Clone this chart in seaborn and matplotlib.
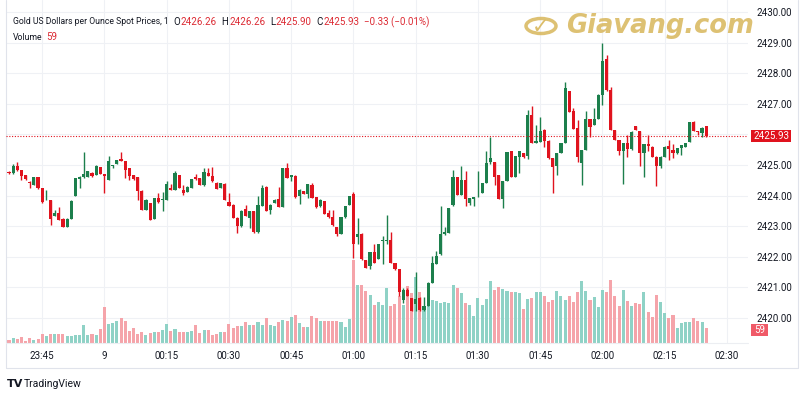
import matplotlib
matplotlib.use("Agg")
import matplotlib.pyplot as plt
import matplotlib.transforms as mtransforms
from matplotlib import font_manager
from matplotlib.patches import Rectangle, Circle
from matplotlib.lines import Line2D
import numpy as np
import pandas as pd
import seaborn as sns

# ---------------- data ----------------
# one candle per minute starting at 23:37
opens = [2424.78, 2424.73, 2424.98, 2424.84, 2424.67, 2424.44, 2424.35, 2424.59, 2424.24, 2423.87,
         2423.84, 2423.34, 2423.42, 2423.24, 2422.97, 2423.24, 2424.00, 2424.53, 2424.60, 2424.62,
         2424.75, 2424.67, 2424.92, 2424.70, 2424.51, 2424.97, 2425.03, 2425.20, 2425.13, 2424.89,
         2424.67, 2424.60, 2424.16, 2423.53, 2423.75, 2423.24, 2423.91, 2423.84, 2423.86, 2424.26,
         2424.18, 2424.67, 2424.18, 2424.13, 2424.24, 2424.62, 2424.57, 2424.33, 2424.73, 2424.65,
         2424.42, 2424.26, 2424.39, 2423.80, 2423.70, 2423.28, 2422.99, 2423.55, 2423.26, 2423.48,
         2422.80, 2423.66, 2424.29, 2423.53, 2423.75, 2423.89, 2423.64, 2424.89, 2424.59, 2424.65,
         2423.97, 2424.15, 2424.05, 2424.35, 2423.94, 2423.65, 2423.81, 2423.43, 2423.29, 2422.96,
         2422.75, 2423.29, 2423.70, 2424.05, 2422.64, 2422.75, 2421.88, 2421.70, 2422.16, 2421.92,
         2422.50, 2422.52, 2422.56, 2421.80, 2421.59, 2420.58, 2420.90, 2420.65, 2420.47, 2420.66,
         2420.25, 2420.40, 2421.15, 2421.77, 2422.08, 2422.73, 2422.78, 2423.68, 2424.61, 2424.03,
         2424.52, 2423.76, 2423.90, 2424.04, 2424.09, 2424.41, 2425.10, 2425.10, 2424.66, 2423.90,
         2424.47, 2425.45, 2424.60, 2425.25, 2425.39, 2425.28, 2426.64, 2425.72, 2425.75, 2426.15,
         2425.79, 2425.21, 2424.96, 2425.39, 2425.72, 2427.41, 2426.76, 2426.22, 2425.07, 2425.49,
         2426.50, 2426.32, 2426.50, 2427.30, 2428.45, 2427.44, 2426.14, 2425.81, 2425.46, 2425.71,
         2425.51, 2426.27, 2426.11, 2425.38, 2425.67, 2425.60, 2425.27, 2424.95, 2425.27, 2425.63,
         2425.49, 2425.38, 2425.54, 2425.60, 2425.76, 2426.39, 2426.09, 2426.03, 2426.26]
highs = [2424.80, 2425.02, 2425.09, 2424.85, 2424.68, 2424.46, 2424.62, 2424.60, 2424.25, 2424.18,
         2423.86, 2423.53, 2423.64, 2423.25, 2423.25, 2423.84, 2424.58, 2424.63, 2425.41, 2424.81,
         2424.76, 2424.99, 2424.93, 2424.71, 2425.30, 2425.00, 2425.17, 2425.41, 2425.14, 2424.90,
         2424.68, 2424.61, 2424.17, 2423.87, 2423.76, 2423.92, 2424.08, 2424.13, 2424.48, 2424.37,
         2424.80, 2424.68, 2424.35, 2424.30, 2424.54, 2424.70, 2424.58, 2424.91, 2424.90, 2424.92,
         2424.43, 2424.41, 2424.40, 2424.08, 2423.71, 2423.29, 2423.52, 2423.70, 2423.49, 2423.49,
         2423.97, 2424.35, 2424.30, 2423.71, 2423.87, 2424.29, 2424.90, 2425.05, 2424.68, 2424.66,
         2424.20, 2424.16, 2424.38, 2424.40, 2423.95, 2423.87, 2423.82, 2423.54, 2423.54, 2422.97,
         2423.30, 2423.66, 2423.98, 2424.11, 2423.27, 2422.76, 2421.89, 2422.17, 2422.40, 2422.43,
         2422.67, 2423.37, 2422.81, 2421.81, 2421.60, 2420.98, 2420.98, 2420.66, 2421.51, 2420.67,
         2420.67, 2421.16, 2422.02, 2422.18, 2423.65, 2422.97, 2423.59, 2424.85, 2424.62, 2424.96,
         2424.79, 2423.93, 2423.95, 2424.79, 2424.42, 2425.45, 2425.90, 2425.11, 2424.67, 2424.48,
         2425.43, 2425.46, 2425.29, 2425.46, 2425.40, 2426.80, 2426.91, 2426.29, 2426.55, 2426.16,
         2425.80, 2425.22, 2425.40, 2425.73, 2427.71, 2427.42, 2426.85, 2426.47, 2425.50, 2426.76,
         2426.51, 2426.87, 2427.31, 2428.99, 2428.58, 2427.55, 2426.15, 2425.82, 2425.72, 2425.98,
         2426.10, 2426.28, 2426.12, 2425.68, 2425.98, 2425.61, 2425.28, 2425.28, 2425.61, 2425.81,
         2425.70, 2425.55, 2425.66, 2425.72, 2426.40, 2426.43, 2426.12, 2426.23, 2426.26]
lows = [2424.70, 2424.70, 2424.80, 2424.51, 2424.50, 2424.24, 2424.33, 2424.22, 2423.75, 2423.85,
        2423.04, 2423.32, 2423.20, 2422.96, 2422.96, 2423.22, 2423.98, 2424.24, 2424.57, 2424.60,
        2424.62, 2424.66, 2424.70, 2424.08, 2424.50, 2424.90, 2425.02, 2425.12, 2424.57, 2424.51,
        2424.52, 2423.86, 2423.52, 2423.52, 2423.20, 2423.23, 2423.75, 2423.48, 2423.85, 2424.17,
        2424.17, 2424.23, 2424.02, 2424.12, 2424.23, 2424.52, 2424.34, 2424.32, 2424.64, 2424.45,
        2424.20, 2424.25, 2423.85, 2423.65, 2423.27, 2422.77, 2422.98, 2423.33, 2422.93, 2422.79,
        2422.79, 2423.65, 2423.50, 2423.40, 2423.74, 2423.61, 2423.63, 2424.56, 2424.46, 2423.93,
        2423.72, 2424.04, 2423.92, 2423.91, 2423.60, 2423.64, 2423.39, 2423.28, 2423.02, 2422.68,
        2422.74, 2423.28, 2423.69, 2421.97, 2422.40, 2421.90, 2421.63, 2421.59, 2421.79, 2421.91,
        2421.75, 2422.40, 2421.79, 2421.58, 2420.70, 2420.50, 2420.71, 2420.22, 2420.23, 2420.24,
        2420.24, 2420.39, 2421.14, 2421.76, 2422.07, 2422.72, 2422.77, 2423.67, 2424.02, 2424.02,
        2423.65, 2423.70, 2423.65, 2423.95, 2424.08, 2424.40, 2425.03, 2424.36, 2423.89, 2423.60,
        2424.46, 2424.59, 2424.59, 2424.74, 2425.24, 2425.18, 2425.71, 2425.71, 2425.74, 2425.60,
        2425.20, 2424.09, 2424.66, 2425.38, 2425.71, 2426.73, 2426.18, 2425.09, 2424.35, 2425.48,
        2425.92, 2426.31, 2426.49, 2426.95, 2427.43, 2426.13, 2425.80, 2425.31, 2424.37, 2425.27,
        2425.50, 2426.13, 2424.98, 2424.62, 2425.45, 2425.26, 2424.30, 2424.89, 2425.26, 2425.16,
        2425.21, 2425.37, 2425.33, 2425.59, 2425.75, 2426.10, 2425.98, 2425.91, 2425.90]
closes = [2424.72, 2424.97, 2424.84, 2424.65, 2424.53, 2424.42, 2424.60, 2424.24, 2423.80, 2423.89,
          2423.23, 2423.42, 2423.21, 2422.97, 2423.24, 2423.83, 2424.57, 2424.62, 2424.70, 2424.80,
          2424.64, 2424.98, 2424.71, 2424.64, 2425.13, 2424.99, 2425.16, 2425.13, 2424.84, 2424.65,
          2424.53, 2424.16, 2423.53, 2423.86, 2423.21, 2423.91, 2423.78, 2423.88, 2424.38, 2424.18,
          2424.73, 2424.24, 2424.08, 2424.29, 2424.53, 2424.53, 2424.35, 2424.78, 2424.65, 2424.46,
          2424.21, 2424.40, 2423.86, 2423.66, 2423.28, 2423.00, 2423.51, 2423.34, 2423.48, 2422.80,
          2423.70, 2424.26, 2423.51, 2423.70, 2423.86, 2423.62, 2424.89, 2424.57, 2424.67, 2423.94,
          2424.19, 2424.05, 2424.37, 2423.92, 2423.61, 2423.86, 2423.40, 2423.29, 2423.03, 2422.75,
          2423.29, 2423.65, 2423.97, 2422.42, 2422.75, 2421.91, 2421.64, 2422.16, 2421.80, 2422.42,
          2422.55, 2422.56, 2421.80, 2421.59, 2420.86, 2420.90, 2420.72, 2420.23, 2420.61, 2420.25,
          2420.40, 2421.15, 2421.80, 2422.02, 2422.73, 2422.80, 2423.58, 2424.61, 2424.03, 2424.52,
          2423.90, 2423.92, 2423.94, 2424.05, 2424.41, 2425.07, 2425.21, 2424.60, 2423.90, 2424.47,
          2425.42, 2424.60, 2425.28, 2425.45, 2425.25, 2426.64, 2425.72, 2425.79, 2426.10, 2425.77,
          2425.21, 2424.92, 2425.39, 2425.72, 2427.51, 2426.74, 2426.19, 2425.27, 2425.49, 2426.50,
          2426.25, 2426.50, 2427.30, 2428.41, 2427.44, 2426.14, 2425.81, 2425.44, 2425.71, 2425.52,
          2426.09, 2426.14, 2425.38, 2425.67, 2425.63, 2425.27, 2424.95, 2425.27, 2425.60, 2425.51,
          2425.38, 2425.54, 2425.65, 2425.71, 2426.39, 2426.11, 2426.07, 2426.22, 2425.93]
volumes = [13, 20, 17, 24, 7, 20, 13, 16, 35, 29, 35, 35, 35, 35, 29, 29, 30, 33, 69, 33, 35, 33, 55,
           140, 76, 79, 88, 98, 88, 48, 59, 35, 43, 33, 39, 43, 43, 52, 75, 48, 56, 43, 43, 43, 46,
           69, 39, 52, 52, 30, 35, 43, 43, 75, 59, 68, 66, 81, 69, 72, 83, 72, 98, 72, 66, 81, 92,
           85, 102, 111, 79, 63, 62, 105, 98, 88, 85, 85, 88, 85, 83, 62, 94,
           325, 229, 229, 203, 190, 151, 160, 151, 216, 147, 155, 186, 150, 223, 197, 260, 199, 131,
           170, 170, 164, 157, 160, 157,
           229, 216, 197, 157, 151, 107, 177, 151, 174, 245, 207, 220, 214, 203, 199, 199, 197, 134,
           173, 177, 199, 199, 186, 161, 170, 203, 186, 170, 186, 161, 199, 245, 206, 170, 179, 140,
           207, 200, 249, 186, 147, 210, 166, 147, 157, 155, 200, 122, 101, 190, 160, 118, 98, 109,
           59, 79, 83, 83, 98, 88, 83, 59]
time_tick_labels = ["23:45", "9", "00:15", "00:30", "00:45", "01:00", "01:15",
                    "01:30", "01:45", "02:00", "02:15", "02:30"]
time_tick_minutes = [8, 23, 38, 53, 68, 83, 98, 113, 128, 143, 158, 173]  # minutes after 23:37
price_ticks = [2420, 2421, 2422, 2423, 2424, 2425, 2426, 2427, 2428, 2429, 2430]
price_tick_labels = ["2420.00", "2421.00", "2422.00", "2423.00", "2424.00", "2425.00",
                     "", "2427.00", "2428.00", "2429.00", "2430.00"]
last_price = 2425.93
last_volume = 59
title_text = "Gold US Dollars per Ounce Spot Prices, 1"
ohlc_letters = ["O", "H", "L", "C"]
ohlc_values = ["2426.26", "2426.26", "2425.90", "2425.93"]
change_text = "\u22120.33 (\u22120.01%)"

# ---------------- style ----------------
def pick(fams):
    for f in fams:
        try:
            font_manager.findfont(font_manager.FontProperties(family=f), fallback_to_default=False)
            return f
        except Exception:
            pass
    return "DejaVu Sans"

sns.set_style("white")
narrow = pick(["Liberation Sans Narrow", "Roboto", "DejaVu Sans"])
plt.rcParams["font.family"] = [narrow, "DejaVu Sans"]

UP = "#1c7f4c"
DOWN = "#e0131e"
VOL_UP = "#8fd2c6"
VOL_DOWN = "#f5a4aa"
GRID = "#eff1f5"
TXT = "#131722"
RED_TXT = "#dc2a33"

W, H = 800, 400
fig = plt.figure(figsize=(8, 4), dpi=100)
fig.patch.set_facecolor("white")

px_per_min = 4.15
x0_px = 9.0
ax_left, ax_right, ax_top, ax_bot = 6, 748, 0, 343
rect = [ax_left / W, 1 - ax_bot / H, (ax_right - ax_left) / W, (ax_bot - ax_top) / H]
xlim = ((ax_left - x0_px) / px_per_min, (ax_right - x0_px) / px_per_min)
ylim = (2419.18, 2430.39)

df = pd.DataFrame({"t": np.arange(len(closes)), "open": opens, "high": highs,
                   "low": lows, "close": closes, "volume": volumes})
df["dir"] = np.where(df["close"] >= df["open"], "up", "down")

# background grid axes
axg = fig.add_axes(rect, zorder=0)
axg.set_xlim(*xlim)
axg.set_ylim(*ylim)
axg.set_xticks(time_tick_minutes)
axg.set_yticks(price_ticks)
axg.tick_params(length=0, labelbottom=False, labelleft=False)
axg.grid(True, color=GRID, lw=0.8)
for s in axg.spines.values():
    s.set_visible(False)

# volume axes
axv = fig.add_axes(rect, zorder=1)
sns.barplot(data=df, x="t", y="volume", hue="dir", palette={"up": VOL_UP, "down": VOL_DOWN},
            native_scale=True, dodge=False, width=0.74, errorbar=None, legend=False,
            saturation=1, linewidth=0, edgecolor="none", ax=axv)
axv.set_xlim(*xlim)
axv.set_ylim(0, 1348)
axv.axis("off")

# price axes (front)
ax = fig.add_axes(rect, zorder=2)
ax.patch.set_visible(False)
ax.set_xlim(*xlim)
ax.set_ylim(*ylim)

cols = np.where(df["dir"] == "up", UP, DOWN)
ax.vlines(df["t"], df["low"], df["high"], colors=cols, lw=1.0, zorder=3)
body_h = np.maximum((df["close"] - df["open"]).abs(), 0.025)
ax.bar(df["t"], body_h, bottom=np.minimum(df["open"], df["close"]), width=0.76,
       color=cols, linewidth=0, zorder=4)

ax.set_yticks(price_ticks)
ax.set_yticklabels(price_tick_labels)
ax.yaxis.tick_right()
ax.set_xticks(time_tick_minutes)
ax.set_xticklabels(time_tick_labels)
ax.tick_params(axis="y", length=0, pad=6, labelsize=7, labelcolor=TXT)
ax.tick_params(axis="x", length=0, pad=6, labelsize=7, labelcolor=TXT)
ax.grid(False)
for s in ax.spines.values():
    s.set_visible(False)

# last price dotted line
ax.axhline(last_price, color=DOWN, lw=0.8, ls=(0, (1, 1.5)), zorder=5)

# frame lines
fig.add_artist(Line2D([ax_left / W, ax_left / W], [1, 1 - 368 / H], color="#e0e3eb", lw=0.8))
fig.add_artist(Line2D([ax_left / W, 798 / W], [1 - 368 / H, 1 - 368 / H], color="#e0e3eb", lw=0.8))
fig.add_artist(Line2D([ax_left / W, ax_right / W], [1 - ax_bot / H, 1 - ax_bot / H], color="#eceef2", lw=0.8))
fig.add_artist(Line2D([798 / W, 798 / W], [1, 1 - 368 / H], color="#e0e3eb", lw=0.8))

# price tag
tp = mtransforms.blended_transform_factory(fig.transFigure, ax.transData)
tag_h_data = 12 / 343 * (ylim[1] - ylim[0])
fig.add_artist(Rectangle((751 / W, last_price - tag_h_data / 2), 40 / W, tag_h_data,
                         transform=tp, fc=DOWN, ec="none", zorder=10))
fig.text(771 / W, last_price, f"{last_price:.2f}", transform=tp, color="white",
         fontsize=7, ha="center", va="center", zorder=11)

# volume tag
tv = mtransforms.blended_transform_factory(fig.transFigure, axv.transData)
vtag_h = 12 / 343 * 1348
fig.add_artist(Rectangle((751 / W, last_volume - vtag_h / 2 - 8), 17 / W, vtag_h,
                         transform=tv, fc="#f05a68", ec="none", zorder=10))
fig.text(759.5 / W, last_volume - 8, str(last_volume), transform=tv, color="white",
         fontsize=7, ha="center", va="center", zorder=11)

# header legend: pieces laid out one after another
renderer = fig.canvas.get_renderer()
title_fs = 7.0
probe = fig.text(0, 0, title_text, fontsize=title_fs)
wpx = probe.get_window_extent(renderer).width
probe.remove()
if wpx > 152:
    title_fs = max(6.2, title_fs * 152 / wpx)

def flow(x, y, s, color=TXT, fs=7.0, gap=0.0):
    t = fig.text(x / W, 1 - y / H, s, color=color, fontsize=fs, va="center", ha="left")
    return t.get_window_extent(renderer).x1 + gap

x = flow(12.7, 22, title_text, fs=title_fs, gap=5)
x = max(x, 169)
for lab, val in zip(ohlc_letters, ohlc_values):
    x = flow(x, 22, lab, gap=0.8)
    x = flow(x, 22, val, color=RED_TXT, gap=4.5)
flow(x, 22, change_text, color=RED_TXT)
x = flow(12.7, 37, "Volume", fs=title_fs, gap=4)
flow(x, 37, str(last_volume), color=RED_TXT)

# watermark logo
GOLD = "#d8b65a"
fig.add_artist(Circle((541 / W, 1 - 26 / H), 15 / W, transform=fig.transFigure,
                      fc="none", ec=GOLD, lw=2.5, alpha=0.85))
fig.text(541 / W, 1 - 27 / H, "\u2713", fontsize=15, color=GOLD, ha="center", va="center",
         fontweight="bold", family="DejaVu Sans", alpha=0.9)
fig.text(566 / W, 1 - 26 / H, "Giavang.com", fontsize=18.5, color=GOLD, ha="left",
         va="center", fontweight="bold", fontstyle="italic", family="DejaVu Sans", alpha=0.85)

# TradingView logo
fig.text(7 / W, 1 - 384 / H, "TV", fontsize=8, fontweight="bold", color="#131722",
         ha="left", va="center", family="DejaVu Sans")
fig.text(24 / W, 1 - 384 / H, "TradingView", fontsize=7.5, color="#131722",
         ha="left", va="center")

fig.savefig("out.png", dpi=100)
